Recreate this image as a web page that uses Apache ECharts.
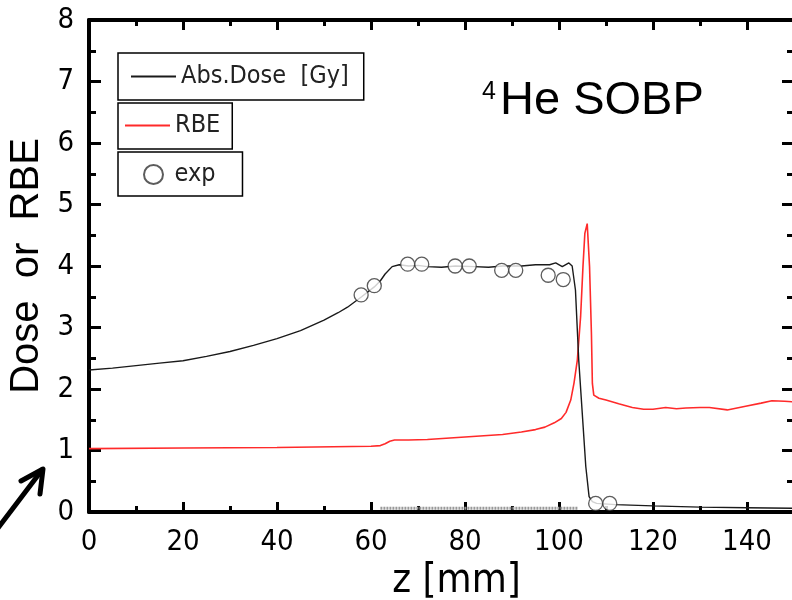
<!DOCTYPE html>
<html>
<head>
<meta charset="utf-8">
<script src="https://cdn.jsdelivr.net/npm/echarts@6/dist/echarts.min.js"></script>
<style>
  html, body { margin: 0; padding: 0; background: #fff; }
  #chart { width: 792px; height: 600px; }
</style>
</head>
<body>
<div id="chart"></div>
<script>
// Depth-dose profile of a 4He spread-out Bragg peak with RBE.
const zDose = [0, 5, 10, 15, 20, 25, 30, 35, 40, 45, 50, 53, 55, 58, 60.7, 62, 63, 64.5, 66, 68, 70, 72, 75, 78, 82, 85, 88, 92, 95, 98, 99.3, 100.7, 102.1, 102.8, 103.5, 104.2, 105.7, 106.4, 107.1, 108, 112, 120, 130, 140, 150];
const dose  = [2.31, 2.34, 2.38, 2.42, 2.46, 2.53, 2.61, 2.71, 2.82, 2.95, 3.12, 3.24, 3.33, 3.50, 3.66, 3.76, 3.87, 3.99, 4.02, 4.00, 4.01, 3.99, 3.98, 4.00, 3.99, 3.98, 4.00, 4.00, 4.02, 4.02, 4.05, 3.99, 4.05, 4.00, 3.61, 2.47, 0.74, 0.25, 0.17, 0.14, 0.12, 0.10, 0.08, 0.07, 0.06];

const zRbe = [0, 20, 40, 60, 62, 63, 64, 65, 68, 72, 76, 80, 84, 88, 92, 95, 97, 99, 100.5, 101.5, 102.5, 103.2, 103.9, 104.6, 105.1, 105.5, 106.0, 106.5, 106.9, 107.1, 107.4, 108.5, 110, 112.7, 115.6, 118, 120, 122.7, 125, 127, 130, 132, 135.8, 139.7, 143, 145.3, 148, 150];
const rbe  = [1.03, 1.04, 1.05, 1.07, 1.08, 1.11, 1.15, 1.17, 1.17, 1.18, 1.20, 1.22, 1.24, 1.26, 1.30, 1.34, 1.38, 1.45, 1.52, 1.62, 1.82, 2.10, 2.47, 3.18, 3.99, 4.53, 4.69, 3.99, 2.90, 2.09, 1.90, 1.85, 1.82, 1.76, 1.70, 1.67, 1.67, 1.70, 1.68, 1.69, 1.70, 1.70, 1.66, 1.72, 1.77, 1.81, 1.80, 1.79];

const zExp   = [57.9, 60.7, 67.8, 70.8, 77.9, 80.9, 87.8, 90.8, 97.7, 100.9, 107.8, 110.8];
const expVal = [3.53, 3.68, 4.03, 4.03, 4.00, 4.00, 3.93, 3.93, 3.85, 3.78, 0.14, 0.14];

// faint trace lying along the depth axis
const zLow   = [62, 104];
const lowVal = [0.06, 0.06];

const xRange = [0, 150];
const yRange = [0, 8];
const xMajorStep = 20, xMinorStep = 10, yMajorStep = 1;

const seriesNames = ['Abs.Dose  [Gy]', 'RBE', 'exp'];

const pairs = (xs, ys) => xs.map((x, i) => [x, ys[i]]);

const tickFont = '"DejaVu Sans Condensed", "DejaVu Sans", sans-serif';
const sansFont = '"Liberation Sans", Arial, sans-serif';
// fixed plot frame; labels may sit outside it
const box = { left: 89, top: 20, width: 705, height: 492, containLabel: false, outerBoundsMode: 'none' };

const chart = echarts.init(document.getElementById('chart'), null, { renderer: 'canvas' });

// x axes: long ticks every 20 mm, short ticks every 10 mm (second grid), on both bottom and top edges
function xAxisDef(grid, pos, step, len, main) {
  return {
    type: 'value', gridIndex: grid, position: pos,
    min: xRange[0], max: xRange[1], interval: step,
    axisLine: { show: main, onZero: false, lineStyle: { color: '#000', width: 4 } },
    axisTick: { show: true, inside: true, length: len, lineStyle: { color: '#000', width: 3 } },
    axisLabel: { show: false },
    splitLine: { show: false }
  };
}

const xAxes = [
  Object.assign(xAxisDef(0, 'bottom', xMajorStep, 10, true), {
    axisLabel: { show: true, showMaxLabel: false, fontSize: 29, fontFamily: tickFont, color: '#000', margin: 16 },
    name: 'z [mm]', nameLocation: 'middle', nameGap: 50,
    nameTextStyle: { fontSize: 40, fontFamily: tickFont, color: '#000', padding: [0, 0, 0, 30] }
  }),
  xAxisDef(0, 'top', xMajorStep, 10, true),
  xAxisDef(1, 'bottom', xMinorStep, 6, false),
  xAxisDef(1, 'top', xMinorStep, 6, false)
];

function yAxisDef(grid, pos, labels) {
  return {
    type: 'value', gridIndex: grid, position: pos,
    min: yRange[0], max: yRange[1], interval: yMajorStep,
    axisLine: { show: true, onZero: false, lineStyle: { color: '#000', width: 4 } },
    axisTick: { show: true, inside: true, length: 12, lineStyle: { color: '#000', width: 3 } },
    minorTick: { show: true, splitNumber: 2, length: 7, lineStyle: { color: '#000', width: 3 } },
    axisLabel: { show: labels, fontSize: 29, fontFamily: tickFont, color: '#000', margin: 15 },
    splitLine: { show: false }
  };
}

const yAxes = [
  Object.assign(yAxisDef(0, 'left', true), {
    name: 'Dose  or  RBE', nameLocation: 'middle', nameGap: 29,
    nameTextStyle: { fontSize: 40, fontFamily: sansFont, color: '#000' }
  }),
  yAxisDef(0, 'right', false),
  Object.assign(yAxisDef(1, 'left', false), { show: false })
];

// each legend entry sits in its own framed box
function legendBox(name, top, padding, itemWidth, itemHeight, hideSymbol) {
  const lg = {
    data: [name], left: 118, top: top, orient: 'horizontal',
    padding: padding, itemWidth: itemWidth, itemHeight: itemHeight,
    borderColor: '#000', borderWidth: 1.5, borderRadius: 0,
    backgroundColor: '#fff', selectedMode: false,
    textStyle: { fontSize: 25, fontFamily: tickFont, color: '#222' }
  };
  // line entries show only the line sample, no marker
  if (hideSymbol) lg.itemStyle = { opacity: 0 };
  return lg;
}

chart.setOption({
  animation: false,
  backgroundColor: '#fff',
  grid: [Object.assign({}, box), Object.assign({}, box)],
  xAxis: xAxes,
  yAxis: yAxes,
  legend: [
    legendBox(seriesNames[0], 53, [11, 15, 11, 12], 45, 14, true),
    legendBox(seriesNames[1], 103, [10, 12, 11, 6], 45, 14, true),
    legendBox(seriesNames[2], 152, [10, 27, 9, 25], 32, 19, false)
  ],
  series: [
    {
      name: 'low', type: 'line', xAxisIndex: 0, yAxisIndex: 0,
      data: pairs(zLow, lowVal), symbol: 'none', silent: true,
      lineStyle: { color: '#999', width: 3, type: [2, 1] }, z: 1
    },
    {
      name: seriesNames[1], type: 'line', xAxisIndex: 0, yAxisIndex: 0,
      data: pairs(zRbe, rbe), symbol: 'none', smooth: false,
      lineStyle: { color: '#ff2a2a', width: 1.6 }, itemStyle: { color: '#ff2a2a' }, z: 2
    },
    {
      name: seriesNames[0], type: 'line', xAxisIndex: 0, yAxisIndex: 0,
      data: pairs(zDose, dose), symbol: 'none', smooth: false,
      lineStyle: { color: '#1a1a1a', width: 1.4 }, itemStyle: { color: '#1a1a1a' }, z: 3
    },
    {
      name: seriesNames[2], type: 'scatter', xAxisIndex: 0, yAxisIndex: 0,
      data: pairs(zExp, expVal), symbol: 'circle', symbolSize: 14,
      itemStyle: { color: '#fff', borderColor: '#333', borderWidth: 1.3 }, z: 4
    }
  ],
  graphic: [
    { type: 'text', left: 482, top: 80, z: 10,
      style: { text: '4', fontSize: 25, fontFamily: sansFont, fill: '#000' } },
    { type: 'text', left: 500, top: 78, z: 10,
      style: { text: 'He SOBP', fontSize: 47, fontFamily: sansFont, fill: '#000' } },
    { type: 'polyline', z: 10,
      shape: { points: [[-2, 528], [42, 470]] },
      style: { stroke: '#000', lineWidth: 5, lineCap: 'round', fill: null } },
    { type: 'polyline', z: 10,
      shape: { points: [[21, 481], [43, 469], [40, 494]] },
      style: { stroke: '#000', lineWidth: 5, lineCap: 'round', lineJoin: 'round', fill: null } }
  ]
});
</script>
</body>
</html>
